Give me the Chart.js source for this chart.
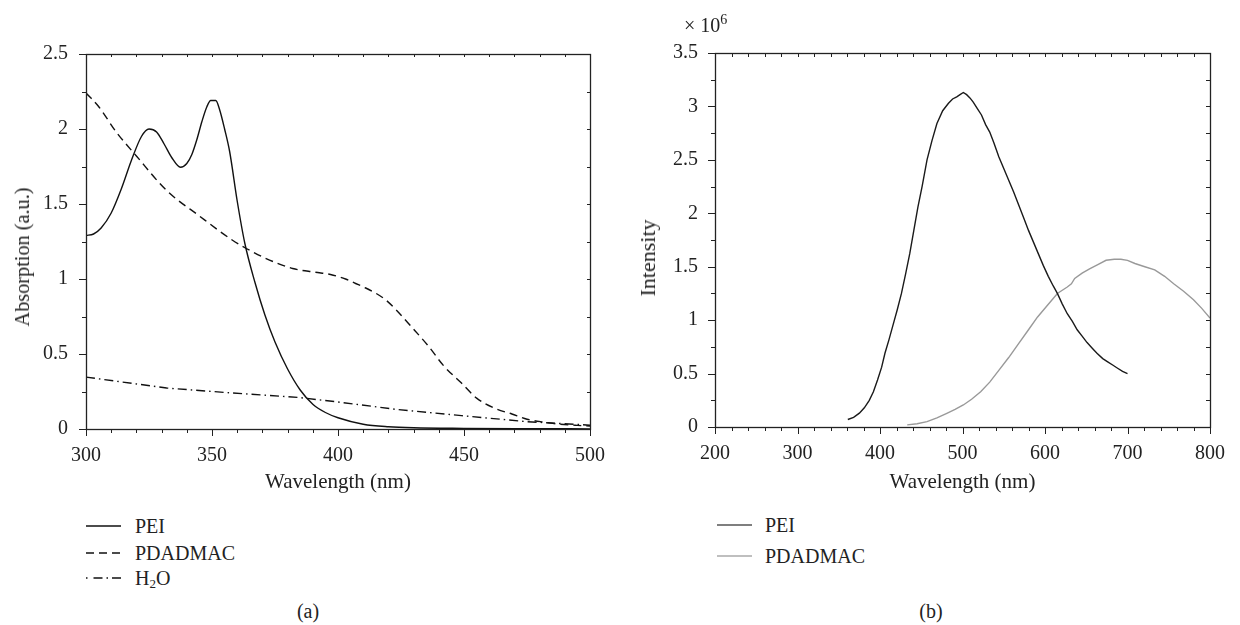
<!DOCTYPE html>
<html>
<head>
<meta charset="utf-8">
<script src="https://cdn.jsdelivr.net/npm/chart.js@4.4.0/dist/chart.umd.min.js"></script>
<style>
  body { margin:0; background:#fff; width:1240px; height:625px; position:relative; overflow:hidden;
         font-family:'Liberation Serif', serif; color:#222; }
  .pane { position:absolute; top:0; }
  .t { position:absolute; white-space:nowrap; line-height:1; font-size:20px; transform:translate(0,-50%); }
  .c { transform:translate(-50%,-50%); }
  .sample { position:absolute; }
</style>
</head>
<body>
<canvas id="chartA" class="pane" width="620" height="500" style="left:0"></canvas>
<canvas id="chartB" class="pane" width="620" height="500" style="left:620px"></canvas>

<!-- rotated y axis titles -->
<div id="ytA" class="t" style="font-size:20px">Absorption (a.u.)</div>
<div id="ytB" class="t" style="font-size:20px">Intensity</div>
<div class="t" style="left:684px;top:24px;font-size:20px">× 10<sup style="font-size:14px;vertical-align:8px">6</sup></div>

<!-- legend a -->
<svg class="sample" style="left:86px;top:516px" width="36" height="70">
  <line x1="0" y1="10" x2="35" y2="10" stroke="#111" stroke-width="1.4"/>
  <line x1="0" y1="37" x2="35" y2="37" stroke="#111" stroke-width="1.4" stroke-dasharray="8 5"/>
  <line x1="0" y1="62" x2="35" y2="62" stroke="#111" stroke-width="1.4" stroke-dasharray="1.5 6 9 4 1.5 4 9"/>
</svg>
<div class="t" style="left:135px;top:526px">PEI</div>
<div class="t" style="left:135px;top:553px">PDADMAC</div>
<div class="t" style="left:135px;top:579px">H<sub style="font-size:13px;vertical-align:-3px">2</sub>O</div>
<div class="t c" style="left:308px;top:611px">(a)</div>

<!-- legend b -->
<svg class="sample" style="left:717px;top:515px" width="36" height="50">
  <line x1="0" y1="10" x2="35" y2="10" stroke="#555" stroke-width="1.5"/>
  <line x1="0" y1="41" x2="35" y2="41" stroke="#aaa" stroke-width="1.5"/>
</svg>
<div class="t" style="left:765px;top:525px">PEI</div>
<div class="t" style="left:765px;top:556px">PDADMAC</div>
<div class="t c" style="left:931px;top:611px">(b)</div>

<script>
// (a) absorption spectra
const peiAbsWl = [300,303,306,310,314,318,322,325,328,331,334,337.5,340,342,344,346,348,349.5,351.5,353,355,357,360,363,367,371,375,380,385,390,395,400,410,420,430,450,475,500];
const peiAbs   = [1.29,1.30,1.34,1.44,1.60,1.79,1.95,2.00,1.98,1.90,1.81,1.745,1.77,1.83,1.93,2.05,2.15,2.19,2.19,2.13,2.00,1.85,1.52,1.24,0.98,0.76,0.58,0.40,0.26,0.165,0.11,0.075,0.032,0.015,0.008,0.004,0.002,0.001];

const pdaAbsWl = [300,305,312,320,332,345,358,364,371,382,391,397,403,407,411,415,419,423,429,436,442,449,455,462,469,475,482,488,495,500];
const pdaAbs   = [2.24,2.15,1.98,1.82,1.59,1.42,1.26,1.20,1.14,1.07,1.045,1.03,1.0,0.97,0.94,0.905,0.86,0.795,0.684,0.55,0.42,0.306,0.206,0.14,0.10,0.065,0.045,0.032,0.024,0.02];

const h2oAbsWl = [300,332,358,384,400,423,449,475,498.5,500];
const h2oAbs   = [0.346,0.273,0.24,0.211,0.18,0.131,0.089,0.049,0.027,0.025];

// (b) emission spectra, intensity in units of 10^6
const peiEmWl = [361,368,375,381,387,392,397,402,406,411,416,421,426,431,436,441,446,451,457,463,469,476,483,488,493,497,501,505,509,513,518,523,528,533,538,544,550,556,562,568,574,580,586,592,598,604,610,615,621,627,633,639,645,651,657,663,670,676,682,688,694,700];
const peiEm   = [0.07,0.09,0.13,0.18,0.25,0.33,0.44,0.56,0.69,0.82,0.96,1.10,1.25,1.43,1.62,1.84,2.06,2.25,2.50,2.68,2.84,2.96,3.03,3.07,3.09,3.11,3.13,3.11,3.08,3.04,2.98,2.92,2.83,2.76,2.66,2.53,2.42,2.31,2.20,2.08,1.96,1.84,1.73,1.62,1.51,1.41,1.32,1.25,1.15,1.06,0.99,0.91,0.85,0.79,0.74,0.69,0.64,0.61,0.58,0.55,0.52,0.50];

const pdaEmWl = [433,445,457,469,481,491,501,511,522,533,544,556,568,580,591,603,615,627,632,636,645,654,664,674,684,692,700,709,721,733,745,756,768,780,790,800];
const pdaEm   = [0.02,0.03,0.05,0.085,0.128,0.165,0.206,0.26,0.33,0.42,0.53,0.65,0.78,0.91,1.03,1.14,1.25,1.31,1.34,1.39,1.44,1.48,1.52,1.56,1.57,1.57,1.56,1.53,1.50,1.47,1.41,1.34,1.27,1.19,1.11,1.02];

const FONT = "'Liberation Serif', serif";
const INK = '#222';

function pts(xs, ys) {
  return xs.map(function(x, i){ return {x: x, y: ys[i]}; });
}

// frame + major/minor tick marks, placed through the chart's scales
const frameTicks = {
  id: 'frameTicks',
  afterDraw(chart, args, o) {
    const ctx = chart.ctx;
    const a = chart.chartArea;
    const x = chart.scales.x, y = chart.scales.y;
    const r = function(v){ return Math.round(v) + 0.5; };
    ctx.save();
    ctx.strokeStyle = INK;
    ctx.lineWidth = 1;
    ctx.beginPath();
    for (let v = x.min; v <= x.max + 1e-9; v += o.xMinor) {
      const px = r(x.getPixelForValue(v));
      const major = Math.abs(v / o.xMajor - Math.round(v / o.xMajor)) < 1e-6;
      ctx.moveTo(px, a.bottom); ctx.lineTo(px, a.bottom + (major ? 7 : 4));
      ctx.moveTo(px, a.top); ctx.lineTo(px, a.top + o.inner);
    }
    for (let v = y.min; v <= y.max + 1e-9; v += o.yMinor) {
      const py = r(y.getPixelForValue(v));
      const major = Math.abs(v / o.yMajor - Math.round(v / o.yMajor)) < 1e-6;
      ctx.moveTo(a.left, py); ctx.lineTo(a.left - (major ? 7 : 4), py);
      ctx.moveTo(a.right, py); ctx.lineTo(a.right - o.inner, py);
    }
    ctx.stroke();
    ctx.lineWidth = 1.3;
    ctx.strokeRect(Math.round(a.left) + 0.5, Math.round(a.top) + 0.5, Math.round(a.right - a.left), Math.round(a.bottom - a.top));
    ctx.restore();
  }
};

function axisOpts(min, max, step, pad, size, title) {
  return {
    type: 'linear', min: min, max: max,
    grid: { display: false, drawTicks: false },
    border: { display: false },
    ticks: { stepSize: step, padding: pad, color: INK, maxRotation: 0, font: { family: FONT, size: 20 },
             callback: function(v){ return String(Number(v)); } },
    title: title ? { display: true, text: title, color: INK, font: { family: FONT, size: 21 }, padding: { top: 0, bottom: 5 } } : { display: false },
    afterFit: function(s){ if (s.isHorizontal()) s.height = size; else s.width = size; }
  };
}

function lineSet(xs, ys, color, dash) {
  return { data: pts(xs, ys), showLine: true, fill: false, borderColor: color, borderWidth: 1.4,
           borderDash: dash, pointRadius: 0, tension: 0 };
}

new Chart(document.getElementById('chartA'), {
  type: 'scatter',
  data: {
    datasets: [
      Object.assign(lineSet(peiAbsWl, peiAbs, '#111', []), { cubicInterpolationMode: 'monotone' }),
      Object.assign(lineSet(pdaAbsWl, pdaAbs, '#111', [8, 5]), { cubicInterpolationMode: 'monotone' }),
      lineSet(h2oAbsWl, h2oAbs, '#111', [9, 4, 1.5, 4])
    ]
  },
  options: {
    responsive: false, animation: false,
    layout: { padding: { left: 0, right: 23, top: 54, bottom: 0 } },
    plugins: { legend: { display: false }, tooltip: { enabled: false },
               frameTicks: { xMajor: 50, xMinor: 10, yMajor: 0.5, yMinor: 0.25, inner: 3 } },
    scales: {
      x: axisOpts(300, 500, 50, 15, 71, 'Wavelength (nm)'),
      y: axisOpts(0, 2.5, 0.5, 18, 86, null)
    }
  },
  plugins: [frameTicks]
});

new Chart(document.getElementById('chartB'), {
  type: 'scatter',
  data: {
    datasets: [
      lineSet(peiEmWl, peiEm, '#1a1a1a', []),
      lineSet(pdaEmWl, pdaEm, '#999', [])
    ]
  },
  options: {
    responsive: false, animation: false,
    layout: { padding: { left: 0, right: 16, top: 53, bottom: 0 } },
    plugins: { legend: { display: false }, tooltip: { enabled: false },
               frameTicks: { xMajor: 100, xMinor: 20, yMajor: 0.5, yMinor: 0.25, inner: 4 } },
    scales: {
      x: axisOpts(200, 800, 100, 15, 73, 'Wavelength (nm)'),
      y: axisOpts(0, 3.5, 0.5, 17, 95, null)
    }
  },
  plugins: [frameTicks]
});

// place the rotated y titles at their centre, scaled to their length in the figure
function fitTitle(id, cx, cy, len) {
  const el = document.getElementById(id);
  const w = el.getBoundingClientRect().width;
  el.style.left = cx + 'px';
  el.style.top = cy + 'px';
  el.style.transform = 'translate(-50%,-50%) rotate(-90deg) scaleX(' + (len / w) + ')';
}
fitTitle('ytA', 22, 257, 139);
fitTitle('ytB', 648, 258, 77);
</script>
</body>
</html>
